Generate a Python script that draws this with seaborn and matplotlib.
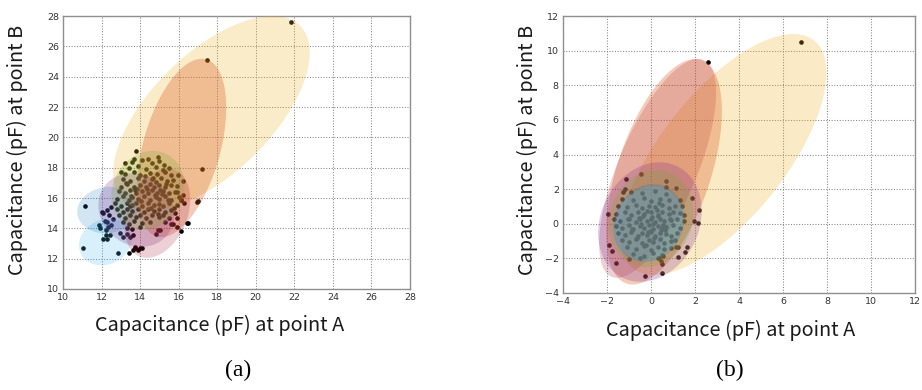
import numpy as np
import matplotlib
matplotlib.use("Agg")
import matplotlib.pyplot as plt
import seaborn as sns

# ---------------- data: panel (a) ----------------
a_x = [21.85, 17.49, 17.21, 17.0, 16.48, 16.13, 15.9, 11.15, 11.05, 12.87, 13.4,
       13.8, 13.69, 14.43, 14.91, 13.2, 12.99, 15.26, 15.96, 16.22, 16.13, 16.3,
       14.95, 14.83, 15.05, 13.9, 14.08, 13.73, 12.09, 12.21, 12.3, 11.86, 12.06,
       12.01, 12.27, 11.92, 12.23, 12.35, 12.44, 12.96, 13.13, 13.31, 13.45, 13.65,
       13.74, 14.0, 13.65, 16.42, 16.94, 12.5, 12.4, 12.6, 12.3, 12.2, 12.5,
       15.8, 15.9, 16.1, 16.2, 15.9, 15.7, 15.75,
       13.6, 14.1, 14.6, 15.0,
       13.4, 13.9, 14.3, 14.8, 15.2, 15.5,
       13.2, 13.7, 14.0, 14.5, 14.9, 15.3, 15.6,
       13.1, 13.5, 13.9, 14.2, 14.6, 14.8, 15.1, 15.4, 15.7,
       13.0, 13.3, 13.7, 14.0, 14.3, 14.5, 14.7, 15.0, 15.3, 15.6, 15.9,
       12.9, 13.2, 13.5, 13.8, 14.1, 14.4, 14.6, 14.9, 15.2, 15.5, 15.8,
       12.8, 13.1, 13.4, 13.6, 13.9, 14.2, 14.5, 14.8, 15.0, 15.3, 15.6, 16.0,
       12.7, 13.0, 13.3, 13.6, 13.8, 14.1, 14.4, 14.7, 15.0, 15.2, 15.5, 15.9,
       12.8, 13.1, 13.3, 13.6, 13.9, 14.2, 14.4, 14.7, 15.0, 15.3, 15.6,
       12.9, 13.2, 13.5, 13.8, 14.0, 14.3, 14.6, 15.0, 15.2, 15.5,
       13.1, 13.4, 13.7, 14.1, 14.5, 15.3, 15.6,
       13.3, 13.6, 14.0,
       13.85, 14.35, 14.75, 15.15, 13.55, 14.05, 14.55, 15.45,
       13.25, 13.75, 14.25, 14.65, 15.05, 15.35, 13.45, 14.95]
a_y = [27.63, 25.1, 17.91, 15.8, 14.37, 13.85, 14.07, 15.49, 12.7, 12.4, 12.4,
       19.1, 18.6, 18.6, 18.73, 18.29, 17.69, 18.18, 17.52, 17.14, 15.87, 15.65,
       13.89, 13.63, 13.9, 12.6, 12.7, 12.68, 13.27, 13.56, 13.27, 14.22, 15.03,
       15.1, 14.44, 14.0, 13.89, 14.07, 13.56, 13.67, 13.45, 13.63, 13.41, 13.56,
       12.79, 12.68, 12.57, 14.38, 15.76, 15.4, 14.9, 14.6, 15.2, 14.5, 14.2,
       15.0, 14.7, 15.9, 16.2, 16.4, 14.3, 15.35,
       18.35, 18.5, 18.3, 18.45,
       17.95, 18.1, 17.9, 18.05, 17.85, 18.0,
       17.55, 17.7, 17.5, 17.65, 17.55, 17.7, 17.5,
       17.25, 17.1, 17.3, 17.15, 17.25, 17.05, 17.3, 17.15, 17.2,
       16.75, 16.9, 16.7, 16.85, 16.75, 16.9, 16.7, 16.85, 16.7, 16.85, 16.8,
       16.45, 16.3, 16.5, 16.35, 16.45, 16.3, 16.5, 16.35, 16.45, 16.3, 16.4,
       15.95, 16.1, 15.9, 16.05, 15.95, 16.1, 15.9, 16.05, 15.95, 16.1, 15.9, 16.05,
       15.65, 15.5, 15.7, 15.55, 15.65, 15.5, 15.7, 15.55, 15.6, 15.5, 15.7, 15.55,
       15.25, 15.1, 15.3, 15.15, 15.25, 15.1, 15.3, 15.15, 15.25, 15.1, 15.2,
       14.85, 14.7, 14.9, 14.75, 14.85, 14.7, 14.9, 14.75, 14.85, 14.7,
       14.45, 14.3, 14.5, 14.35, 14.45, 14.4, 14.3,
       14.05, 13.95, 14.1,
       16.6, 16.6, 16.2, 16.25, 16.15, 15.8, 15.35, 15.85,
       17.0, 16.55, 17.45, 17.35, 16.55, 16.95, 15.45, 14.95]

# ellipses of panel (a): centre, two conjugate semi-diameters, group colour
a_ell_names = ["yellow", "orange", "lightblue", "blue", "purple", "red", "green"]
a_ell_center = [(17.7, 21.6), (16.15, 19.3), (12.2, 13.1), (12.3, 15.2),
                (13.8, 15.2), (14.9, 15.0), (14.4, 16.5)]
a_ell_A = [(4.6, 5.75), (1.25, 5.85), (1.35, 0.5), (1.55, 0.3),
           (-0.5, 2.4), (0.8, 2.9), (0.4, 2.6)]
a_ell_B = [(2.2, -2.8), (1.95, -0.6), (-0.25, 1.45), (-0.2, 1.5),
           (1.9, 0.3), (1.5, -0.5), (1.85, -0.2)]

# ---------------- data: panel (b) ----------------
b_x = [6.82, 2.61, -0.47, -1.15, -1.18, -1.26, -1.94, -1.89, -1.76, -1.59, -0.27,
       0.52, 0.52, 0.45, 0.55, 0.38, 1.21, 1.24, 1.55, 1.65, 1.97, 2.15, 2.2, 1.85,
       1.14, 0.67, 0.68, 1.12,
       -0.9, -0.4, 0.2, 0.7,
       -1.3, -0.8, -0.3, 0.0, 0.4, 0.8, 1.3,
       -1.5, -1.1, -0.7, -0.4, -0.1, 0.2, 0.5, 0.8, 1.1, 1.4,
       -1.6, -1.2, -0.9, -0.6, -0.3, 0.0, 0.3, 0.5, 0.8, 1.0, 1.3, 1.5,
       -1.7, -1.4, -1.0, -0.7, -0.5, -0.2, 0.0, 0.2, 0.4, 0.6, 0.9, 1.2, 1.5,
       -1.6, -1.3, -1.0, -0.8, -0.5, -0.3, -0.1, 0.1, 0.3, 0.5, 0.7, 1.0, 1.3,
       -1.5, -1.2, -0.9, -0.6, -0.4, -0.2, 0.0, 0.2, 0.4, 0.7, 0.9, 1.2,
       -1.3, -1.0, -0.7, -0.4, -0.1, 0.1, 0.4, 0.6, 0.9, 1.1,
       -1.1, -0.7, -0.3, 0.0, 0.3, 0.6, 0.9,
       -0.8, -0.3, 0.1, 0.5,
       -1.0, -0.5, 0.3,
       -0.55, 0.05, 0.45, -0.15, 0.25, -0.85, 0.65, -0.35, 0.15, -0.65,
       0.35, -0.25, 0.85, -1.05, 0.1, -0.45, 0.55, -0.05, 0.3, -0.2]
b_y = [10.52, 9.36, 2.85, 2.58, 2.0, 1.85, 0.59, -1.24, -1.58, -2.24, -3.03,
       -2.87, -2.33, -2.14, -1.85, -1.95, -1.33, -1.91, -1.62, -1.33, 0.17, 0.07,
       0.82, 1.5, 2.04, 2.46, 2.13, -1.33,
       1.85, 1.75, 1.9, 1.7,
       1.45, 1.35, 1.5, 1.3, 1.45, 1.35, 1.4,
       1.05, 0.95, 1.1, 0.9, 1.05, 0.95, 1.1, 0.9, 1.0, 1.05,
       0.55, 0.65, 0.5, 0.7, 0.55, 0.65, 0.5, 0.7, 0.55, 0.65, 0.6, 0.5,
       0.25, 0.15, 0.3, 0.1, 0.25, 0.15, 0.3, 0.1, 0.25, 0.15, 0.2, 0.3, 0.15,
       -0.15, -0.25, -0.1, -0.3, -0.15, -0.25, -0.1, -0.3, -0.15, -0.25, -0.2, -0.1, -0.25,
       -0.55, -0.65, -0.5, -0.7, -0.55, -0.65, -0.5, -0.7, -0.55, -0.6, -0.7, -0.55,
       -0.95, -1.05, -0.9, -1.1, -0.95, -1.05, -0.9, -1.1, -1.0, -0.95,
       -1.35, -1.45, -1.3, -1.5, -1.35, -1.45, -1.4,
       -1.75, -1.85, -1.7, -1.8,
       -2.05, -1.95, -2.0,
       0.35, 0.4, -0.35, -0.45, 0.8, -0.3, -0.35, 0.45, -0.8, -0.85,
       1.2, -1.2, 0.3, 0.3, 0.0, 0.0, -0.05, -0.4, 0.45, 0.75]

b_ell_names = ["yellow", "red", "orange", "purple", "green", "blue", "lightblue"]
b_ell_center = [(3.3, 4.0), (0.3, 3.2), (0.59, 3.0), (-0.05, 0.1),
                (0.0, 0.3), (-0.1, 0.05), (-0.1, 0.0)]
b_ell_A = [(4.1, 6.6), (2.0, 6.3), (1.71, 6.45), (0.5, 3.45),
           (0.3, 2.8), (0.2, 2.25), (0.2, 2.15)]
b_ell_B = [(2.25, -2.2), (1.75, -0.55), (2.0, -0.9), (2.3, -0.1),
           (1.9, -0.1), (1.6, 0.0), (1.55, 0.0)]

# fill colours of the groups
palette = {
    "blue": "#0072BD",
    "orange": "#D95319",
    "yellow": "#EDB120",
    "purple": "#7E2F8E",
    "green": "#77AC30",
    "lightblue": "#4DBEEE",
    "red": "#A2142F",
}
a_alpha = {"blue": 0.18, "orange": 0.3, "yellow": 0.24, "purple": 0.24,
           "green": 0.24, "lightblue": 0.22, "red": 0.2}
b_alpha = {"blue": 0.2, "orange": 0.3, "yellow": 0.26, "purple": 0.25,
           "green": 0.25, "lightblue": 0.22, "red": 0.2}

a_xticks = list(range(10, 29, 2))
a_yticks = list(range(10, 29, 2))
b_xticks = list(range(-4, 13, 2))
b_yticks = list(range(-4, 13, 2))

sns.set_style("white")
plt.rcParams["font.family"] = ["Noto Sans CJK KR", "DejaVu Sans"]

fig = plt.figure(figsize=(9.22, 3.90), dpi=100)
ax_a = fig.add_axes([63 / 922, 1 - 289 / 390, 347 / 922, 273 / 390])
ax_b = fig.add_axes([563 / 922, 1 - 293 / 390, 352 / 922, 277 / 390])


def ellipse_outline(center, A, B, n=240):
    t = np.linspace(0, 2 * np.pi, n)
    cx, cy = center
    xs = cx + np.cos(t) * A[0] + np.sin(t) * B[0]
    ys = cy + np.cos(t) * A[1] + np.sin(t) * B[1]
    return xs, ys


def draw_panel(ax, xs, ys, names, centers, As, Bs, alphas, xticks, yticks,
               xlab_pos, ylab_pos):
    sns.scatterplot(x=xs, y=ys, ax=ax, color="black", s=11, linewidth=0, zorder=2)
    for name, c, A, B in zip(names, centers, As, Bs):
        ex, ey = ellipse_outline(c, A, B)
        ax.fill(ex, ey, color=palette[name], alpha=alphas[name], linewidth=0, zorder=3)
    ax.set_xlim(xticks[0], xticks[-1])
    ax.set_ylim(yticks[0], yticks[-1])
    ax.set_xticks(xticks)
    ax.set_yticks(yticks)
    ax.grid(True, color="#858585", linestyle=(0, (1, 1.6)), linewidth=0.75, zorder=1)
    ax.set_axisbelow(True)
    for sp in ax.spines.values():
        sp.set_color("#8f8f8f")
        sp.set_linewidth(1.0)
    ax.tick_params(axis="both", direction="in", length=3, width=0.6, color="#8f8f8f",
                   labelsize=6.8, labelcolor="#333333", pad=3)
    for lab in ax.get_xticklabels() + ax.get_yticklabels():
        lab.set_family(["Liberation Sans Narrow", "DejaVu Sans"])
    ax.set_xlabel("Capacitance (pF) at point A", fontsize=14.3, color="#1a1a1a")
    ax.set_ylabel("Capacitance (pF) at point B", fontsize=14.3, color="#1a1a1a")
    ax.xaxis.set_label_coords(*xlab_pos)
    ax.yaxis.set_label_coords(*ylab_pos)
    ax.xaxis.label.set_va("center")
    ax.yaxis.label.set_va("center")


draw_panel(ax_a, a_x, a_y, a_ell_names, a_ell_center, a_ell_A, a_ell_B, a_alpha,
           a_xticks, a_yticks, (0.452, -0.132), (-0.13, 0.51))
draw_panel(ax_b, b_x, b_y, b_ell_names, b_ell_center, b_ell_A, b_ell_B, b_alpha,
           b_xticks, b_yticks, (0.477, -0.134), (-0.102, 0.516))

fig.text(238 / 922, 1 - 370 / 390, "(a)", family="Liberation Serif", fontsize=17,
         ha="center", va="center", color="black")
fig.text(730 / 922, 1 - 370 / 390, "(b)", family="Liberation Serif", fontsize=17,
         ha="center", va="center", color="black")

fig.savefig("out.png", dpi=100, facecolor="white")
